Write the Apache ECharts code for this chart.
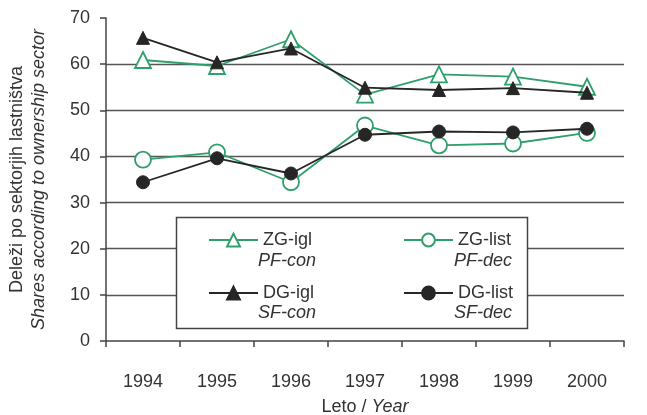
<!DOCTYPE html>
<html>
<head>
<meta charset="utf-8">
<style>
html,body{margin:0;padding:0;background:#fff;}
#c{width:647px;height:415px;}
</style>
<script src="https://cdn.jsdelivr.net/npm/echarts@6/dist/echarts.min.js"></script>
</head>
<body>
<div id="c"></div>
<script>
var years = ['1994','1995','1996','1997','1998','1999','2000'];
var zgIgl  = [60.9, 59.6, 65.4, 53.4, 57.8, 57.3, 55.1];
var zgList = [39.3, 40.9, 34.4, 46.7, 42.4, 42.8, 45.1];
var dgIgl  = [65.7, 60.4, 63.4, 54.9, 54.4, 54.8, 53.8];
var dgList = [34.4, 39.6, 36.3, 44.7, 45.4, 45.2, 46.0];
var seriesNames = ['ZG-igl', 'ZG-list', 'DG-igl', 'DG-list'];
var subNames = ['PF-con', 'PF-dec', 'SF-con', 'SF-dec'];
var yTicks = [0, 10, 20, 30, 40, 50, 60, 70];

var GREEN = '#2f9f6b';
var BLACK = '#262626';
var FONT = '"Liberation Sans", Arial, sans-serif';
var TXT = '#333';

var chart = echarts.init(document.getElementById('c'), null, {renderer: 'canvas'});

var legendText = {fontFamily: FONT, fontSize: 18, color: TXT, lineHeight: 16};

chart.setOption({
  animation: false,
  backgroundColor: '#fff',
  grid: {left: 106, top: 18, width: 518, bottom: 74, containLabel: false, outerBoundsMode: 'none'},
  xAxis: {
    type: 'category',
    data: years,
    boundaryGap: true,
    name: '{a|Leto / }{b|Year}',
    nameLocation: 'middle',
    nameGap: 57,
    nameTextStyle: {
      rich: {
        a: {fontFamily: FONT, fontSize: 18, color: TXT},
        b: {fontFamily: FONT, fontSize: 18, color: TXT, fontStyle: 'italic'}
      }
    },
    axisLine: {show: true, lineStyle: {color: '#444', width: 1.5}},
    axisTick: {show: true, alignWithLabel: false, length: 6, lineStyle: {color: '#444', width: 1.5}},
    axisLabel: {fontFamily: FONT, fontSize: 18, color: TXT, margin: 32},
    splitLine: {show: false}
  },
  yAxis: {
    type: 'value',
    min: 0, max: 70, interval: 10,
    name: '{a|Deleži po sektorjih lastništva}\n{b|Shares according to ownership sector}',
    nameLocation: 'middle',
    nameRotate: 90,
    nameGap: 57,
    nameTextStyle: {
      rich: {
        a: {fontFamily: FONT, fontSize: 18, color: TXT, lineHeight: 21},
        b: {fontFamily: FONT, fontSize: 18, color: TXT, lineHeight: 21, fontStyle: 'italic'}
      }
    },
    axisLine: {show: true, lineStyle: {color: '#444', width: 1.5}},
    axisTick: {show: true, length: 6, lineStyle: {color: '#444', width: 1.5}},
    axisLabel: {fontFamily: FONT, fontSize: 18, color: TXT, margin: 16,
      formatter: function (v) { return yTicks.indexOf(v) >= 0 ? String(v) : ''; }},
    splitLine: {show: true, showMinLine: false, showMaxLine: false, lineStyle: {color: '#555', width: 1.3}}
  },
  legend: [
    {
      data: [seriesNames[0], seriesNames[2]],
      orient: 'vertical', left: 203, top: 226,
      itemWidth: 49, itemHeight: 16, itemGap: 35,
      textStyle: legendText, z: 4
    },
    {
      data: [seriesNames[1], seriesNames[3]],
      orient: 'vertical', left: 398, top: 226,
      itemWidth: 49, itemHeight: 16, itemGap: 35,
      textStyle: legendText, z: 4
    }
  ],
  graphic: [
    {type: 'rect', z: 3, shape: {x: 176.5, y: 217.5, width: 351, height: 111},
      style: {fill: '#fff', stroke: '#444', lineWidth: 1.5}},
    {type: 'text', z: 5, x: 258, y: 261, style: {text: subNames[0], font: 'italic 18px ' + FONT, fill: TXT, verticalAlign: 'middle'}},
    {type: 'text', z: 5, x: 454, y: 261, style: {text: subNames[1], font: 'italic 18px ' + FONT, fill: TXT, verticalAlign: 'middle'}},
    {type: 'text', z: 5, x: 258, y: 313, style: {text: subNames[2], font: 'italic 18px ' + FONT, fill: TXT, verticalAlign: 'middle'}},
    {type: 'text', z: 5, x: 454, y: 313, style: {text: subNames[3], font: 'italic 18px ' + FONT, fill: TXT, verticalAlign: 'middle'}}
  ],
  series: [
    {
      name: seriesNames[0], type: 'line', data: zgIgl,
      symbol: 'triangle', symbolSize: 16,
      lineStyle: {color: GREEN, width: 1.8},
      itemStyle: {color: '#fff', borderColor: GREEN, borderWidth: 1.8},
      z: 2
    },
    {
      name: seriesNames[1], type: 'line', data: zgList,
      symbol: 'circle', symbolSize: 16,
      lineStyle: {color: GREEN, width: 1.8},
      itemStyle: {color: '#fff', borderColor: GREEN, borderWidth: 1.8},
      z: 2
    },
    {
      name: seriesNames[2], type: 'line', data: dgIgl,
      symbol: 'triangle', symbolSize: 13,
      lineStyle: {color: BLACK, width: 1.8},
      itemStyle: {color: BLACK, borderColor: BLACK, borderWidth: 1},
      z: 3
    },
    {
      name: seriesNames[3], type: 'line', data: dgList,
      symbol: 'circle', symbolSize: 13,
      lineStyle: {color: BLACK, width: 1.8},
      itemStyle: {color: BLACK, borderColor: BLACK, borderWidth: 1},
      z: 3
    }
  ]
});
</script>
</body>
</html>
